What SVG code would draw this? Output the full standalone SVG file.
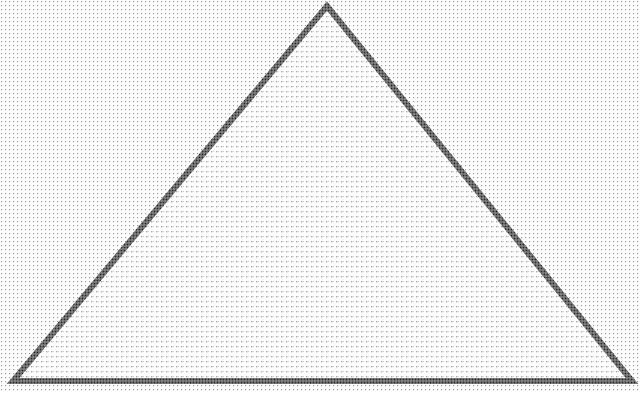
<svg xmlns="http://www.w3.org/2000/svg" width="640" height="393" viewBox="0 0 640 393">
  <defs>
    <pattern id="dots" width="4" height="4" patternUnits="userSpaceOnUse">
      <rect width="4" height="4" fill="#ffffff"/>
      <rect x="1" y="1" width="1.2" height="1.2" fill="#9a9a9a"/>
    </pattern>
    <pattern id="dotsIn" width="5" height="5" patternUnits="userSpaceOnUse">
      <rect width="5" height="5" fill="#ffffff"/>
      <rect x="1" y="1" width="1.4" height="1.4" fill="#a8a8a8"/>
      <rect x="3" y="1" width="1" height="1" fill="#d0d0d0"/>
    </pattern>
    <pattern id="edge" width="3" height="3" patternUnits="userSpaceOnUse">
      <rect width="3" height="3" fill="#9a9a9a"/>
      <rect x="0.5" y="0.5" width="2" height="2" fill="#2a2a2a"/>
    </pattern>
  </defs>
  <style>
    .tri { fill: url(#dotsIn); stroke: url(#edge); stroke-width: 6; stroke-linejoin: miter; }
  </style>
  <rect width="640" height="393" fill="url(#dots)"/>
  <g id="triangle">
    <polygon class="tri" points="327,6 13,381 632,381"/>
  </g>
  <g id="connectors"/>
</svg>
